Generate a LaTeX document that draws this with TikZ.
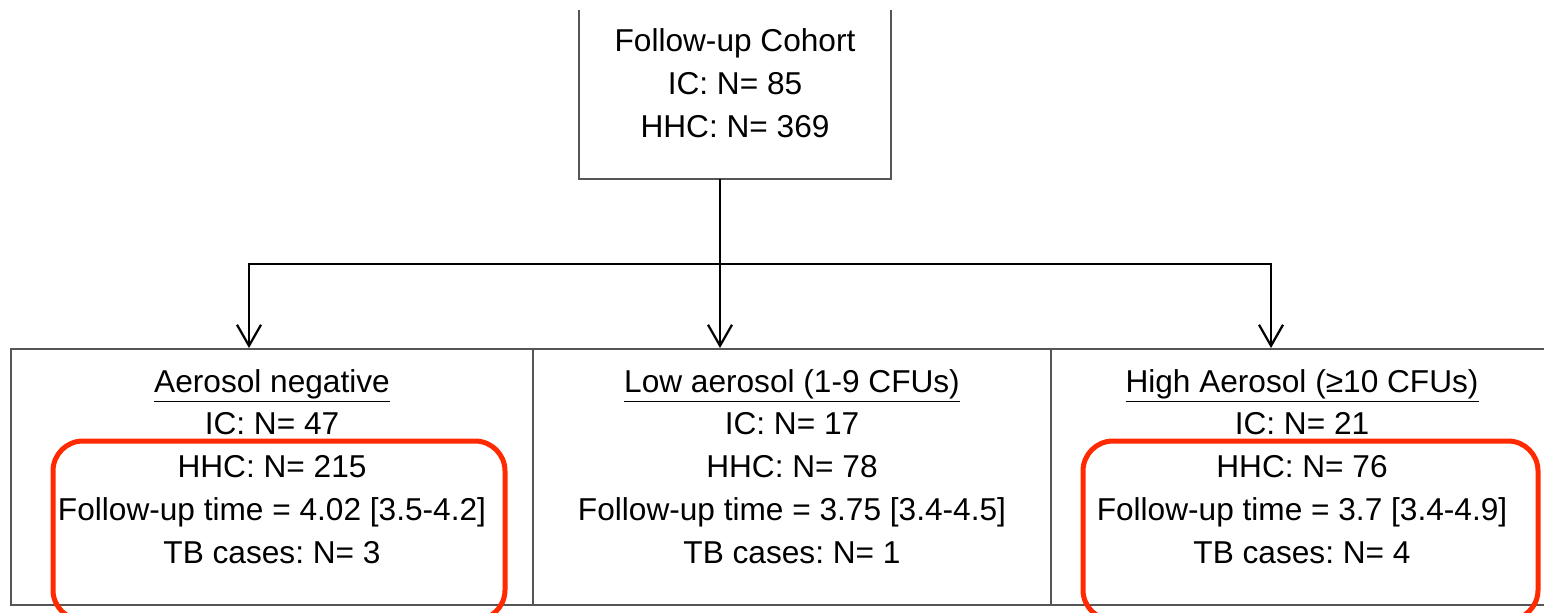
\documentclass[tikz,border=0pt]{standalone}
\usepackage{fontspec}
\setmainfont{Liberation Sans}
\usepackage{tikz}
\usepackage{xcolor}
\usetikzlibrary{arrows.meta}
\frenchspacing

\definecolor{boxgray}{HTML}{555555}
\definecolor{markred}{HTML}{FF2A00}

\tikzset{
  frame/.style={draw=boxgray, line width=0.04cm, inner sep=0pt},
  txt/.style={align=center, inner sep=0pt, font=\fontsize{18}{24.4}\selectfont},
  flow/.style={line width=0.045cm, -{Straight Barb[length=0.42cm,width=0.48cm,line width=0.045cm]}},
  redbox/.style={draw=markred, line width=0.1cm, rounded corners=0.6cm}
}

\begin{document}
\begin{tikzpicture}[x=0.02cm, y=-0.02cm]
    \useasboundingbox (0,0) rectangle (1544,612);
    \clip (0,0) rectangle (1544,612);

    \path (735,94.5) node [inner sep=0pt, minimum width=6.24cm, minimum height=3.38cm] (cohortbox) {};
    \draw [frame] (cohortbox.north west) -- (cohortbox.south west)
        -- (cohortbox.south east) -- (cohortbox.north east);
    \path (735,83) node [txt] (cohort) {Follow-up Cohort\\IC: N= 85\\HHC: N= 369};

    \path (272,477) node [frame, minimum width=10.44cm, minimum height=5.12cm] (negbox) {};
    \path (792,477) node [frame, minimum width=10.36cm, minimum height=5.12cm] (lowbox) {};
    \path (1302,477) node [frame, minimum width=10.04cm, minimum height=5.12cm] (highbox) {};

    \path (272,466.5) node [txt] (negtxt) {\underline{Aerosol negative}\\IC: N= 47\\HHC: N= 215\\Follow-up time = 4.02 [3.5-4.2]\\TB cases: N= 3};
    \path (792,466.5) node [txt] (lowtxt) {\underline{Low aerosol (1-9 CFUs)}\\IC: N= 17\\HHC: N= 78\\Follow-up time = 3.75 [3.4-4.5]\\TB cases: N= 1};
    \path (1302,466.5) node [txt] (hightxt) {\underline{High Aerosol (≥10 CFUs)}\\IC: N= 21\\HHC: N= 76\\Follow-up time = 3.7 [3.4-4.9]\\TB cases: N= 4};

    \coordinate (fork) at (720,264);
    \coordinate (negin) at (negbox.north -| 249,0);
    \coordinate (lowin) at (lowbox.north -| 720,0);
    \coordinate (highin) at (highbox.north -| 1271,0);
    \draw [line width=0.045cm] (cohortbox.south -| fork) -- (fork);
    \draw [flow] (fork) -| (negin);
    \draw [flow] (fork) -- (lowin);
    \draw [flow] (fork) -| (highin);

    \draw [redbox] (53,441) rectangle (505,620);
    \draw [redbox] (1083,441) rectangle (1538,620);
\end{tikzpicture}
\end{document}
